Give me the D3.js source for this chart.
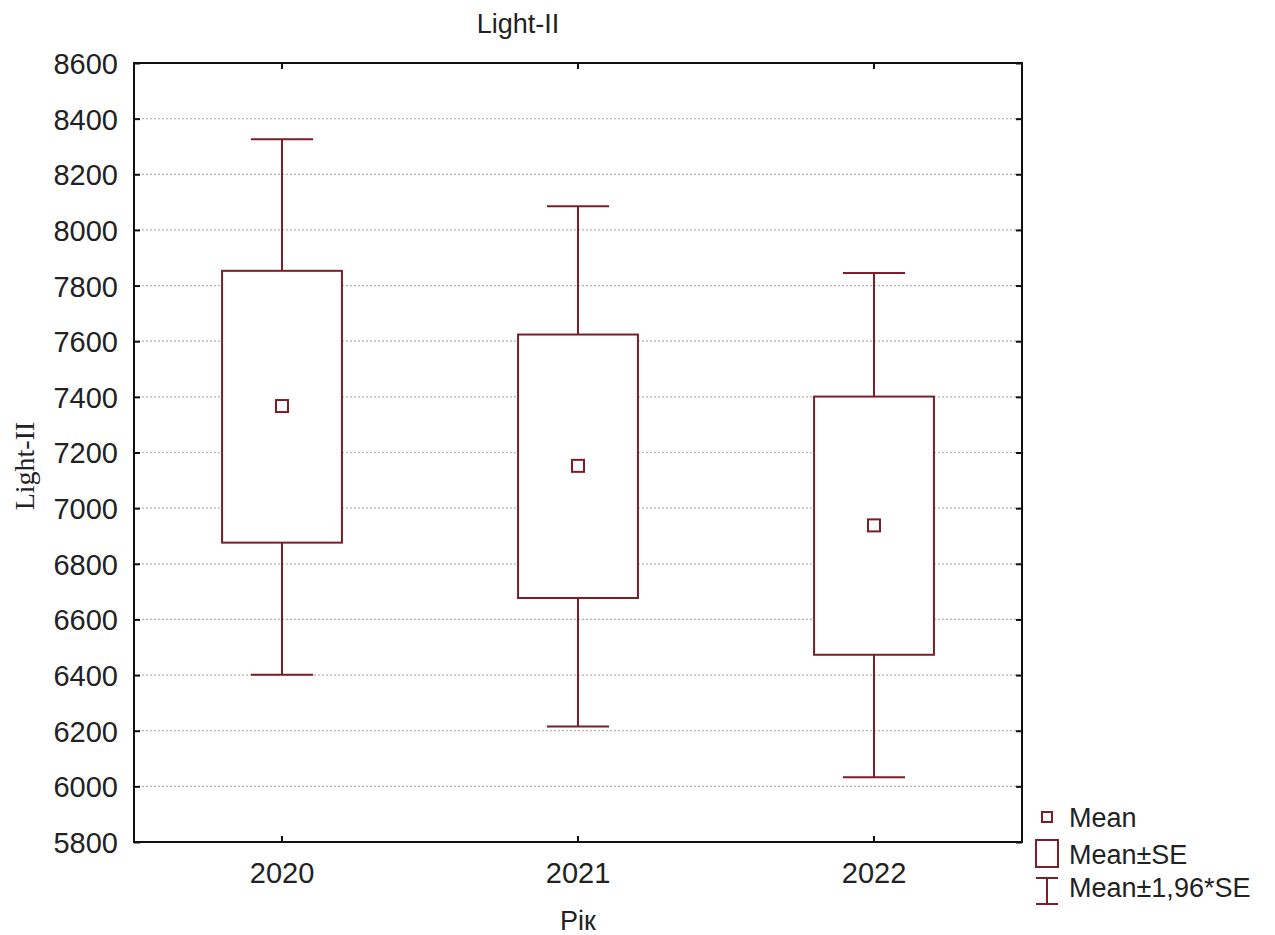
<!DOCTYPE html>
<html>
<head>
<meta charset="utf-8">
<script src="https://cdn.jsdelivr.net/npm/d3@7"></script>
<style>
  html, body { margin: 0; padding: 0; background: #fff; }
  svg text { font-family: "Liberation Sans", Arial, sans-serif; fill: #222; }
</style>
</head>
<body>
<svg id="chart" width="1275" height="935"></svg>
<script>
// Yearly summary of Light-II: mean, ±SE box and ±1.96·SE whiskers
const years      = ["2020", "2021", "2022"];
const means      = [7367, 7152, 6938];
const seLow      = [6876, 6677, 6473];
const seHigh     = [7853, 7624, 7401];
const ciLow      = [6401, 6215, 6033];
const ciHigh     = [8326, 8085, 7845];
const yTicks     = [5800, 6000, 6200, 6400, 6600, 6800, 7000, 7200, 7400, 7600, 7800, 8000, 8200, 8400, 8600];
const legendText = ["Mean", "Mean±SE", "Mean±1,96*SE"];

const color = "#7d1d2a";
const svg = d3.select("#chart");

const plot = { left: 134, right: 1022, top: 63, bottom: 842 };

const x = d3.scaleBand().domain(years).range([plot.left, plot.right]).padding(0);
const y = d3.scaleLinear().domain([5800, 8600]).range([plot.bottom, plot.top]);

// dotted horizontal grid
svg.append("g")
  .selectAll("line")
  .data(yTicks.slice(1, -1))
  .join("line")
  .attr("x1", plot.left).attr("x2", plot.right)
  .attr("y1", d => y(d)).attr("y2", d => y(d))
  .attr("stroke", "#b4b4b4").attr("stroke-width", 1.2)
  .attr("stroke-dasharray", "2,2");

// axes with inward ticks on all four sides
const tickLen = 6;
const axisStyle = g => {
  g.select(".domain").remove();
  g.selectAll(".tick line").attr("stroke", "#111").attr("stroke-width", 2);
  g.selectAll(".tick text")
    .style("font-family", "'Liberation Sans', Arial, sans-serif")
    .style("font-size", "29px").attr("fill", "#2a2a2a");
};

svg.append("g")
  .attr("transform", `translate(${plot.left},0)`)
  .call(d3.axisLeft(y).tickValues(yTicks).tickFormat(d3.format("d")).tickSizeInner(-tickLen).tickSizeOuter(0).tickPadding(16))
  .call(axisStyle)
  .selectAll(".tick text").attr("dy", "0.36em");

svg.append("g")
  .attr("transform", `translate(${plot.right},0)`)
  .call(d3.axisRight(y).tickValues(yTicks).tickSizeInner(-tickLen).tickSizeOuter(0).tickFormat(""))
  .call(axisStyle);

svg.append("g")
  .attr("transform", `translate(0,${plot.bottom})`)
  .call(d3.axisBottom(x).tickSizeInner(-tickLen).tickSizeOuter(0).tickPadding(20))
  .call(axisStyle);

svg.append("g")
  .attr("transform", `translate(0,${plot.top})`)
  .call(d3.axisTop(x).tickSizeInner(-tickLen).tickSizeOuter(0).tickFormat(""))
  .call(axisStyle);

// plot frame
svg.append("rect")
  .attr("x", plot.left).attr("y", plot.top)
  .attr("width", plot.right - plot.left).attr("height", plot.bottom - plot.top)
  .attr("fill", "none").attr("stroke", "#111").attr("stroke-width", 2);

// boxes and whiskers
const boxW = x.bandwidth() * 0.405;
const capW = x.bandwidth() * 0.21;
const cx = i => x(years[i]) + x.bandwidth() / 2;

const groups = svg.append("g")
  .selectAll("g")
  .data(years.map((d, i) => i))
  .join("g");

groups.append("line")
  .attr("x1", cx).attr("x2", cx)
  .attr("y1", i => y(ciHigh[i])).attr("y2", i => y(seHigh[i]))
  .attr("stroke", color).attr("stroke-width", 2);
groups.append("line")
  .attr("x1", cx).attr("x2", cx)
  .attr("y1", i => y(seLow[i])).attr("y2", i => y(ciLow[i]))
  .attr("stroke", color).attr("stroke-width", 2);
groups.append("line")
  .attr("x1", i => cx(i) - capW / 2).attr("x2", i => cx(i) + capW / 2)
  .attr("y1", i => y(ciHigh[i])).attr("y2", i => y(ciHigh[i]))
  .attr("stroke", color).attr("stroke-width", 2);
groups.append("line")
  .attr("x1", i => cx(i) - capW / 2).attr("x2", i => cx(i) + capW / 2)
  .attr("y1", i => y(ciLow[i])).attr("y2", i => y(ciLow[i]))
  .attr("stroke", color).attr("stroke-width", 2);
groups.append("rect")
  .attr("x", i => cx(i) - boxW / 2).attr("width", boxW)
  .attr("y", i => y(seHigh[i])).attr("height", i => y(seLow[i]) - y(seHigh[i]))
  .attr("fill", "#fff").attr("stroke", color).attr("stroke-width", 2);
const ms = 12;
groups.append("rect")
  .attr("x", i => cx(i) - ms / 2).attr("y", i => y(means[i]) - ms / 2)
  .attr("width", ms).attr("height", ms)
  .attr("fill", "#fff").attr("stroke", color).attr("stroke-width", 2);

// titles
svg.append("text")
  .attr("x", 518).attr("y", 33).attr("text-anchor", "middle")
  .style("font-size", "27px").text("Light-II");
svg.append("text")
  .attr("x", 578).attr("y", 930).attr("text-anchor", "middle")
  .style("font-size", "27px").text("Рік");
svg.append("text")
  .attr("transform", "translate(34,466) rotate(-90)")
  .attr("text-anchor", "middle")
  .style("font-family", "'Liberation Serif', 'Times New Roman', serif")
  .style("font-size", "28px").text("Light-II");

// legend
const lg = svg.append("g");
const lx = 1047, tx = 1069;
lg.append("rect").attr("x", lx - 5).attr("y", 812).attr("width", 10).attr("height", 10)
  .attr("fill", "#fff").attr("stroke", color).attr("stroke-width", 2);
lg.append("rect").attr("x", lx - 11).attr("y", 840).attr("width", 22).attr("height", 27)
  .attr("fill", "#fff").attr("stroke", color).attr("stroke-width", 2);
lg.append("line").attr("x1", lx).attr("x2", lx).attr("y1", 878).attr("y2", 904)
  .attr("stroke", color).attr("stroke-width", 2);
lg.append("line").attr("x1", lx - 11).attr("x2", lx + 11).attr("y1", 878).attr("y2", 878)
  .attr("stroke", color).attr("stroke-width", 2);
lg.append("line").attr("x1", lx - 11).attr("x2", lx + 11).attr("y1", 904).attr("y2", 904)
  .attr("stroke", color).attr("stroke-width", 2);
lg.selectAll("text")
  .data(legendText)
  .join("text")
  .attr("x", tx).attr("y", (d, i) => [827, 864, 897][i])
  .style("font-size", "27px").text(d => d);
</script>
</body>
</html>
